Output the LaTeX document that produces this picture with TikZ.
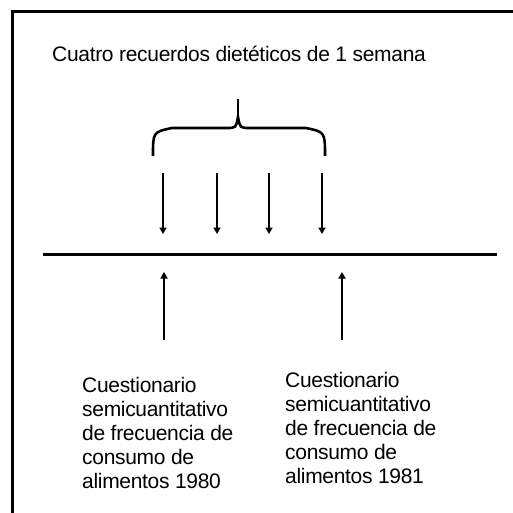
\documentclass[tikz,border=0pt]{standalone}
\usepackage{fontspec}
\setmainfont[LetterSpace=-1.5]{Liberation Sans}
\usetikzlibrary{arrows.meta}
\begin{document}
\begin{tikzpicture}[x=1pt,y=-1pt,
  frameline/.style={line width=3pt,line cap=rect},
  timeline/.style={line width=3pt},
  bracepath/.style={line width=2.6pt},
  arr/.style={line width=1.7pt,-{Triangle[width=7pt,length=6.5pt]}},
  lbl/.style={inner sep=0pt,anchor=base west,font=\fontsize{21}{24.2}\selectfont}]
\useasboundingbox (0,0) rectangle (512,513);
% frame
\coordinate (fbl) at (12,514);
\coordinate (ftl) at (12,12);
\coordinate (ftr) at (513,12);
\draw[frameline] (fbl) -- (ftl) -- (ftr);
% title
\node[lbl] (title) at (52,62) {Cuatro recuerdos dietéticos de 1 semana};
% brace
\coordinate (bl) at (153,156);
\coordinate (br) at (325,156);
\coordinate (bj) at (238,117);
\coordinate (bt) at (238,99);
\draw[bracepath] (bl) .. controls (153,132) .. (172,128) -- (226,128)
  .. controls (236,128) .. (bj) .. controls (240,128) .. (250,128) -- (306,128)
  .. controls (325,132) .. (br);
\draw[bracepath] (bj) -- (bt);
% timeline
\coordinate (tl) at (43,254);
\coordinate (tr) at (497,254);
\draw[timeline] (tl) -- (tr);
% down arrows
\foreach \x [count=\i] in {163,217,269,322}{
  \coordinate (ds\i) at (\x,173);
  \coordinate (de\i) at (\x,234);
  \draw[arr] (ds\i) -- (de\i);
}
% up arrows
\coordinate (us1) at (164,340);
\coordinate (ue1) at (164,272);
\coordinate (us2) at (342,340);
\coordinate (ue2) at (342,272);
\draw[arr] (us1) -- (ue1);
\draw[arr] (us2) -- (ue2);
% questionnaire labels
\node[lbl] (q1980) at (82,392) {\parbox[t]{200pt}{\raggedright\fontsize{21}{24.2}\selectfont Cuestionario\\semicuantitativo\\de frecuencia de\\consumo de\\alimentos 1980}};
\node[lbl] (q1981) at (285,387) {\parbox[t]{200pt}{\raggedright\fontsize{21}{24.2}\selectfont Cuestionario\\semicuantitativo\\de frecuencia de\\consumo de\\alimentos 1981}};
\end{tikzpicture}
\end{document}
